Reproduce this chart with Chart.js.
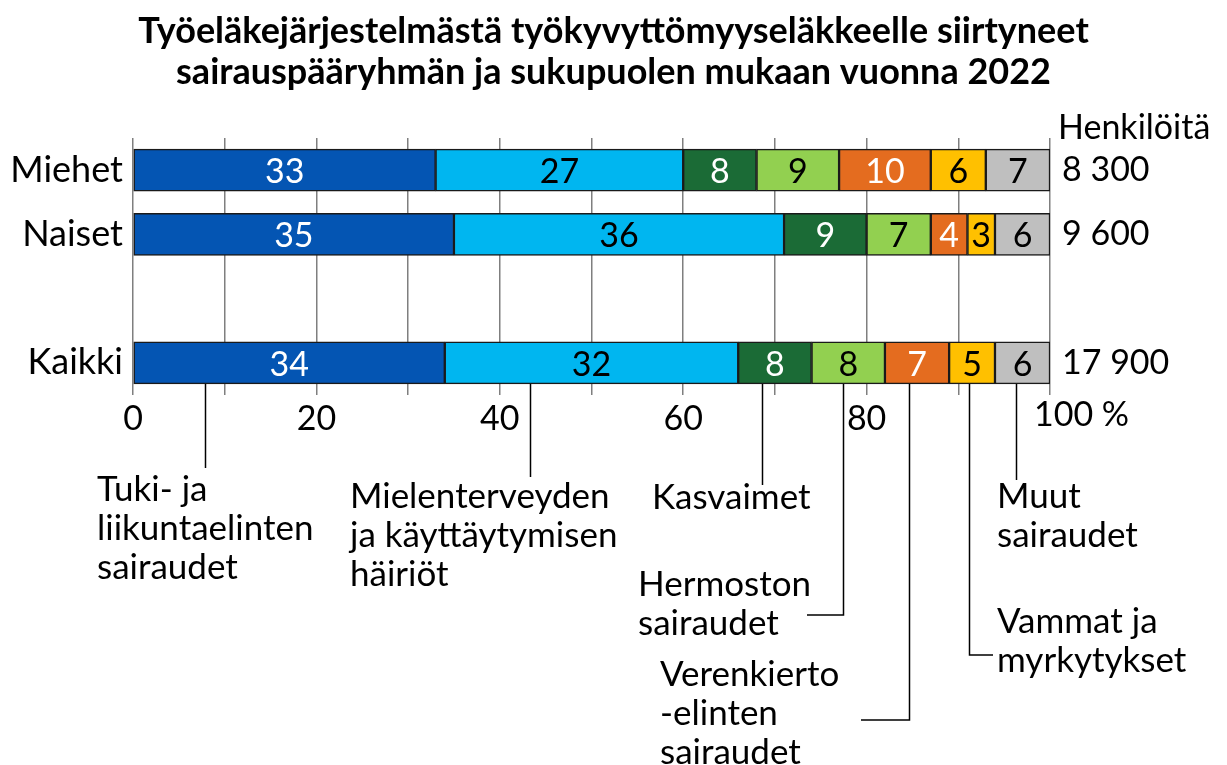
<!DOCTYPE html>
<html>
<head>
<meta charset="utf-8">
<script src="https://cdn.jsdelivr.net/npm/chart.js@4.4.1/dist/chart.umd.min.js"></script>
<style>
html, body { margin: 0; padding: 0; background: #fff; }
#wrap { width: 1227px; height: 765px; position: relative; }
</style>
</head>
<body>
<div id="wrap"><canvas id="chart"></canvas></div>
<script>
// data, % of persons in each group
const categories = ['Miehet', 'Naiset', '', 'Kaikki'];
const persons = ['8 300', '9 600', '', '17 900'];
const groups = ['Tuki- ja liikuntaelinten sairaudet', 'Mielenterveyden ja käyttäytymisen häiriöt', 'Kasvaimet',
                'Hermoston sairaudet', 'Verenkiertoelinten sairaudet', 'Vammat ja myrkytykset', 'Muut sairaudet'];
const tuki = [33, 35, null, 34];
const mieli = [27, 36, null, 32];
const kasvaimet = [8, 9, null, 8];
const hermosto = [9, 7, null, 8];
const verenkierto = [10, 4, null, 7];
const vammat = [6, 3, null, 5];
const muut = [7, 6, null, 6];
const xLabelled = [0, 20, 40, 60, 80];

const FONT = 'Lato, "DejaVu Sans", sans-serif';
const colors = ['#0455b3', '#00b6f0', '#1b6b36', '#92d050', '#e46c1f', '#ffc000', '#bfbfbf'];
const textColors = ['#fff', '#000', '#fff', '#000', '#fff', '#000', '#000'];

// callouts under the bars: "at" is a value on the x scale, rest is layout
const callouts = [
    { at: 7.85, lines: ['Tuki- ja', 'liikuntaelinten', 'sairaudet'], tx: 97, ty: 490, end: 468 },
    { at: 43.3, lines: ['Mielenterveyden', 'ja käyttäytymisen', 'häiriöt'], tx: 350, ty: 497, end: 477 },
    { at: 68.6, lines: ['Kasvaimet'], tx: 652, ty: 498, end: 485 },
    { at: 77.4, lines: ['Hermoston', 'sairaudet'], tx: 638, ty: 585, end: 615, toX: 807 },
    { at: 84.6, lines: ['Verenkierto', '-elinten', 'sairaudet'], tx: 660, ty: 675, end: 720, toX: 861 },
    { at: 91.2, lines: ['Vammat ja', 'myrkytykset'], tx: 997, ty: 622, end: 655, toX: 993 },
    { at: 96.3, lines: ['Muut', 'sairaudet'], tx: 997, ty: 497, end: 480 }
];

const series = [tuki, mieli, kasvaimet, hermosto, verenkierto, vammat, muut];

const extras = {
    id: 'extras',
    afterDatasetsDraw(chart) {
        const ctx = chart.ctx;
        const x = chart.scales.x;
        const area = chart.chartArea;
        ctx.save();
        ctx.font = '34px ' + FONT;
        ctx.textBaseline = 'middle';

        // values inside segments
        ctx.textAlign = 'center';
        chart.data.datasets.forEach((ds, i) => {
            chart.getDatasetMeta(i).data.forEach((el, j) => {
                const v = ds.data[j];
                if (v == null) return;
                const p = el.getProps(['x', 'y', 'base']);
                ctx.fillStyle = textColors[i];
                ctx.fillText(v, (p.x + p.base) / 2, p.y + 2);
            });
        });

        // header of persons column
        ctx.textAlign = 'left';
        ctx.fillStyle = '#000';
        ctx.fillText('Henkilöitä', area.right + 8, area.top - 10);

        // last tick label
        ctx.fillText('100 %', x.getPixelForValue(100) - 16, area.bottom + 20);

        // callouts
        ctx.font = '35px ' + FONT;
        const last = chart.getDatasetMeta(0).data[3].getProps(['y', 'height']);
        const y0 = last.y + last.height / 2;
        ctx.strokeStyle = '#000';
        ctx.lineWidth = 1.5;
        callouts.forEach(c => {
            const px = Math.round(x.getPixelForValue(c.at)) + 0.5;
            ctx.beginPath();
            ctx.moveTo(px, y0);
            ctx.lineTo(px, c.end);
            if (c.toX) ctx.lineTo(c.toX, c.end);
            ctx.stroke();
            c.lines.forEach((ln, k) => ctx.fillText(ln, c.tx, c.ty + k * 39));
        });
        ctx.restore();
    }
};

new Chart(document.getElementById('chart'), {
    type: 'bar',
    data: {
        labels: categories,
        datasets: series.map((d, i) => ({
            label: groups[i],
            data: d,
            backgroundColor: colors[i],
            borderColor: '#1a1a1a',
            borderWidth: 1.5,
            borderSkipped: false,
            barThickness: 42
        }))
    },
    options: {
        indexAxis: 'y',
        responsive: true,
        maintainAspectRatio: false,
        animation: false,
        layout: { padding: { left: 0, right: 0, top: 0, bottom: 330 } },
        plugins: {
            legend: { display: false },
            tooltip: { enabled: false },
            title: {
                display: true,
                text: ['Työeläkejärjestelmästä työkyvyttömyyseläkkeelle siirtyneet',
                       'sairauspääryhmän ja sukupuolen mukaan vuonna 2022'],
                color: '#000',
                font: { family: FONT, size: 36, weight: 'bold', lineHeight: 1.14 },
                padding: { top: 11, bottom: 45 }
            }
        },
        scales: {
            x: {
                stacked: true,
                min: 0,
                max: 100,
                border: { display: false },
                grid: { color: '#7f7f7f', lineWidth: 1.5, drawTicks: false },
                ticks: {
                    stepSize: 10,
                    autoSkip: false,
                    maxRotation: 0,
                    padding: 4,
                    color: '#000',
                    font: { family: FONT, size: 34 },
                    callback: v => xLabelled.includes(v) ? String(v) : ''
                },
                afterFit: s => { s.height = 40; }
            },
            y: {
                stacked: true,
                border: { display: false },
                grid: { display: false, drawTicks: false },
                ticks: { color: '#000', padding: 10, font: { family: FONT, size: 36 } },
                afterFit: s => { s.width = 133; }
            },
            // persons per row, shown at the right edge
            y2: {
                type: 'category',
                labels: persons,
                position: 'right',
                offset: true,
                border: { display: false },
                grid: { display: false, drawTicks: false },
                ticks: { color: '#000', padding: 12, font: { family: FONT, size: 34 } },
                afterFit: s => { s.width = 177; }
            }
        }
    },
    plugins: [extras]
});
</script>
</body>
</html>
